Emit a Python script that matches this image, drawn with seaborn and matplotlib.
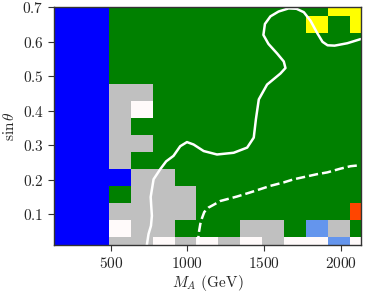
"""
Scan in the (M_A, sin theta) plane: cell classes plus two exclusion contours.
"""

import numpy as np
import matplotlib
matplotlib.use("Agg")
import matplotlib.pyplot as plt
from matplotlib.colors import ListedColormap
import seaborn as sns

# grid centres of the scan
m_a = [130.0, 272.9, 415.7, 558.6, 701.4, 844.3, 987.1, 1130.0,
       1272.9, 1415.7, 1558.6, 1701.4, 1844.3, 1987.1, 2130.0]
sin_theta = [0.01, 0.0593, 0.1086, 0.1579, 0.2071, 0.2564, 0.3057, 0.355,
             0.4043, 0.4536, 0.5029, 0.5521, 0.6014, 0.6507, 0.7]

# cell classes, one string per sin(theta) row, top row first
# B blue, G green, S silver, W white, Y yellow, R red, L light blue
cells = [
    "BBBGGGGGGGGGGYY",
    "BBBGGGGGGGGGYGY",
    "BBBGGGGGGGGGGGG",
    "BBBGGGGGGGGGGGG",
    "BBBGGGGGGGGGGGG",
    "BBBSSGGGGGGGGGG",
    "BBBSWGGGGGGGGGG",
    "BBBSGGGGGGGGGGG",
    "BBBSSGGGGGGGGGG",
    "BBBSGGGGGGGGGGG",
    "BBBBSSGGGGGGGGG",
    "BBBGSSSGGGGGGGG",
    "BBBSSSSGGGGGGGR",
    "BBBWSSGGGSSGLSG",
    "BBBSSWSWSWSWWLW",
]
classes = ["B", "G", "S", "W", "Y", "R", "L"]
class_colors = ["blue", "green", "silver", "snow", "yellow", "orangered", "cornflowerblue"]

# solid contour
solid_ma = [735, 746, 762, 768, 760, 760, 779, 822, 861, 909, 953, 997, 1040,
            1106, 1193, 1302, 1390, 1433, 1447, 1466, 1520, 1607, 1640, 1629,
            1586, 1529, 1496, 1506, 1542, 1595, 1660, 1712, 1760, 1804, 1848,
            1882, 1915, 1961, 2044, 2131]
solid_st = [0.010, 0.042, 0.066, 0.095, 0.135, 0.164, 0.201, 0.230, 0.253,
            0.269, 0.297, 0.309, 0.302, 0.283, 0.273, 0.278, 0.293, 0.322,
            0.375, 0.433, 0.476, 0.508, 0.524, 0.543, 0.566, 0.594, 0.620,
            0.652, 0.674, 0.688, 0.697, 0.696, 0.686, 0.661, 0.625, 0.600,
            0.590, 0.589, 0.596, 0.608]

# dashed contour
dash_ma = [1068, 1073, 1084, 1095, 1110, 1138, 1171, 1215, 1324, 1411, 1542,
           1629, 1694, 1848, 1913, 2000, 2065, 2131]
dash_st = [0.010, 0.042, 0.071, 0.088, 0.106, 0.119, 0.127, 0.138, 0.151,
           0.163, 0.182, 0.192, 0.201, 0.216, 0.221, 0.232, 0.239, 0.242]


def main():
    sns.set_style("ticks")
    plt.rcParams["font.family"] = "serif"
    plt.rcParams["font.serif"] = ["cmr10", "DejaVu Serif"]
    plt.rcParams["mathtext.fontset"] = "cm"
    plt.rcParams["axes.formatter.use_mathtext"] = True

    codes = np.array([[classes.index(c) for c in row] for row in cells[::-1]])

    fig = plt.figure(figsize=(3.66, 2.96), dpi=100)
    ax = fig.add_axes([0.148, 0.172, 0.837, 0.803])

    ax.pcolormesh(m_a, sin_theta, codes, shading="nearest",
                  cmap=ListedColormap(class_colors), vmin=-0.5, vmax=len(classes) - 0.5)

    sns.lineplot(x=solid_ma, y=solid_st, sort=False, color="white", lw=1.8, ax=ax)
    sns.lineplot(x=dash_ma, y=dash_st, sort=False, color="white", lw=1.8,
                 linestyle="--", ax=ax)

    ax.set_xlim(m_a[0], m_a[-1])
    ax.set_ylim(sin_theta[0], sin_theta[-1])
    ax.set_xticks([500, 1000, 1500, 2000])
    ax.set_yticks([0.1, 0.2, 0.3, 0.4, 0.5, 0.6, 0.7])
    ax.tick_params(labelsize=11, length=4, width=0.8, color="#333333")
    for sp in ax.spines.values():
        sp.set_color("#333333")
        sp.set_linewidth(1.0)

    ax.set_xlabel(r"$M_A$ (GeV)", fontsize=11, labelpad=2)
    ax.set_ylabel(r"$\sin\theta$", fontsize=11, labelpad=4)

    fig.savefig("out.png", dpi=100)
    plt.close(fig)


if __name__ == "__main__":
    main()
